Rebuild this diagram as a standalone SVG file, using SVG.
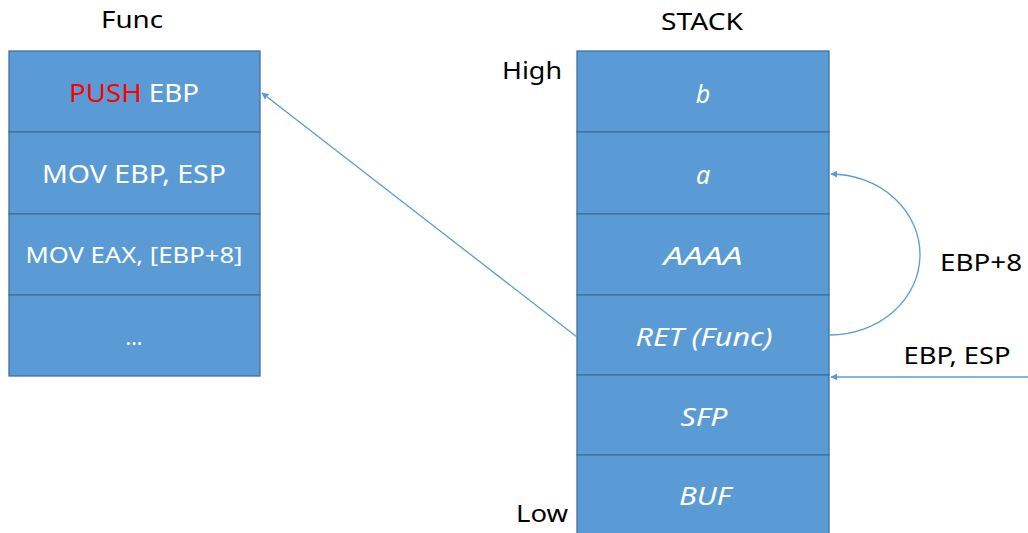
<svg xmlns="http://www.w3.org/2000/svg" width="1028" height="533" viewBox="0 0 1028 533">
  <defs>
    <marker id="arrow" viewBox="0 0 10 10" refX="9" refY="5" markerWidth="7" markerHeight="7" orient="auto-start-reverse" markerUnits="userSpaceOnUse">
      <path d="M0,0 L10,5 L0,10 z" fill="#5B9BD5"/>
    </marker>
    <style>
      .cell { fill: #5B9BD5; stroke: #41719C; stroke-width: 1.3; }
      .t { font-family: "Noto Sans", "Open Sans", sans-serif; text-anchor: middle; }
      .w { fill: #FFFFFF; font-size: 25px; }
      .wi { fill: #FFFFFF; font-size: 25px; font-style: italic; }
      .k { fill: #000000; font-size: 24px; }
      .conn { fill: none; stroke: #5B9BD5; stroke-width: 1.3; }
    </style>
  </defs>
  <rect width="1028" height="533" fill="#FFFFFF"/>

  <!-- Function code block -->
  <text class="t k" x="132" y="28" textLength="62" lengthAdjust="spacingAndGlyphs">Func</text>
  <g id="func-push">
    <rect class="cell" x="9" y="51" width="251" height="81"/>
    <text class="t w" x="134" y="102" textLength="130" lengthAdjust="spacingAndGlyphs"><tspan fill="#FF0000">PUSH</tspan> EBP</text>
  </g>
  <g id="func-mov-ebp">
    <rect class="cell" x="9" y="132" width="251" height="82"/>
    <text class="t w" x="134" y="183" textLength="184" lengthAdjust="spacingAndGlyphs">MOV EBP, ESP</text>
  </g>
  <g id="func-mov-eax">
    <rect class="cell" x="9" y="214" width="251" height="81"/>
    <text class="t w" x="134" y="263" style="font-size:21px" textLength="217" lengthAdjust="spacingAndGlyphs">MOV  EAX, [EBP+8]</text>
  </g>
  <g id="func-more">
    <rect class="cell" x="9" y="295" width="251" height="81"/>
    <text class="t w" x="134" y="345" style="font-size:21px">...</text>
  </g>

  <!-- Stack frame -->
  <text class="t k" x="702" y="30" textLength="82" lengthAdjust="spacingAndGlyphs">STACK</text>
  <text class="t k" x="532" y="79" textLength="60" lengthAdjust="spacingAndGlyphs">High</text>
  <text class="t k" x="542" y="522" textLength="52" lengthAdjust="spacingAndGlyphs">Low</text>
  <g id="stack-b">
    <rect class="cell" x="577" y="51" width="252" height="81"/>
    <text class="t wi" x="703" y="103">b</text>
  </g>
  <g id="stack-a">
    <rect class="cell" x="577" y="132" width="252" height="82"/>
    <text class="t wi" x="703" y="184">a</text>
  </g>
  <g id="stack-aaaa">
    <rect class="cell" x="577" y="214" width="252" height="81"/>
    <text class="t wi" x="703" y="265" textLength="79" lengthAdjust="spacingAndGlyphs">AAAA</text>
  </g>
  <g id="stack-ret">
    <rect class="cell" x="577" y="295" width="252" height="80"/>
    <text class="t wi" x="704" y="346" textLength="137" lengthAdjust="spacingAndGlyphs">RET (Func)</text>
  </g>
  <g id="stack-sfp">
    <rect class="cell" x="577" y="375" width="252" height="80"/>
    <text class="t wi" x="704" y="426" textLength="47" lengthAdjust="spacingAndGlyphs">SFP</text>
  </g>
  <g id="stack-buf">
    <rect class="cell" x="577" y="455" width="252" height="85"/>
    <text class="t wi" x="705" y="505" textLength="52" lengthAdjust="spacingAndGlyphs">BUF</text>
  </g>

  <!-- Connectors -->
  <g id="connectors">
    <line class="conn" x1="577" y1="337" x2="262" y2="93" marker-end="url(#arrow)"/>
    <path class="conn" d="M829,335 A90,80.5 0 0 0 831,174" marker-end="url(#arrow)"/>
    <line class="conn" x1="1028" y1="377" x2="831" y2="377" marker-end="url(#arrow)"/>
  </g>
  <text class="t k" x="981" y="271" textLength="82" lengthAdjust="spacingAndGlyphs">EBP+8</text>
  <text class="t k" x="957" y="364" textLength="107" lengthAdjust="spacingAndGlyphs">EBP, ESP</text>
</svg>
